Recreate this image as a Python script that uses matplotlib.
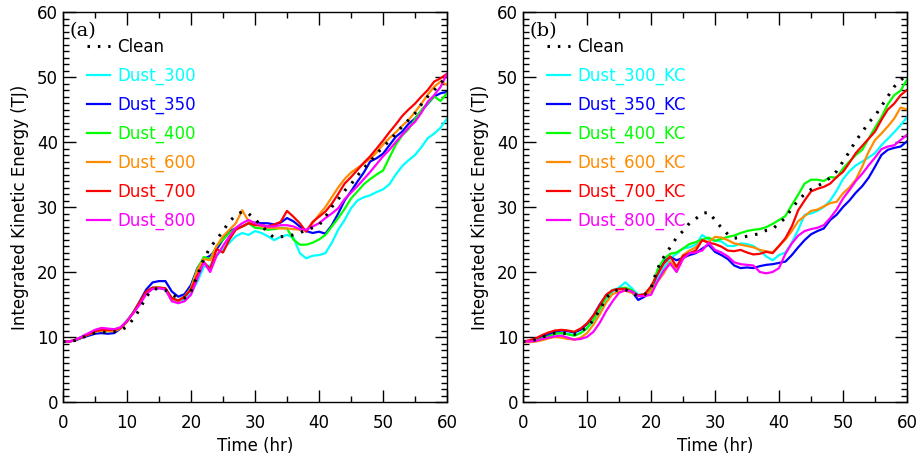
import numpy as np
import matplotlib
matplotlib.use("Agg")
import matplotlib.pyplot as plt
from matplotlib.ticker import MultipleLocator

hours = list(range(61))

# ---------------- Panel (a) ----------------
labels_a = ["Clean", "Dust_300", "Dust_350", "Dust_400", "Dust_600", "Dust_700", "Dust_800"]
clean_a = [9.3,9.3,9.5,9.9,10.3,10.6,10.7,10.7,10.8,11.0,
           11.6,12.8,14.3,16.2,17.3,17.5,17.2,16.5,16.0,16.0,
           17.0,19.5,22.0,23.8,25.0,26.3,27.8,28.7,29.3,29.0,
           28.0,27.3,26.0,25.3,25.4,25.6,25.7,26.0,26.5,26.8,
           27.2,28.5,30.0,31.2,32.5,33.5,34.8,36.0,37.0,38.2,
           39.2,40.2,41.3,42.4,43.4,44.4,45.8,47.0,48.0,49.0,50.3]
dust300_a = [9.3,9.3,9.6,10.0,10.4,10.9,11.1,11.0,11.0,11.4,
             12.5,13.8,15.3,16.8,17.4,17.5,17.3,15.8,15.3,15.8,
             16.8,18.5,20.8,21.0,22.5,23.5,24.5,25.5,26.0,25.7,
             26.3,26.0,25.5,24.9,25.4,25.7,25.3,22.9,22.1,22.5,
             22.6,22.9,24.5,26.5,28.0,29.8,31.0,31.5,31.8,32.3,
             32.7,33.5,35.0,36.3,37.2,38.0,39.2,40.6,41.3,42.2,43.6]
dust350_a = [9.3,9.3,9.5,9.9,10.2,10.5,10.6,10.5,10.6,11.3,
             12.4,13.8,15.5,17.3,18.4,18.6,18.6,17.0,16.2,16.6,
             18.0,20.6,22.0,22.5,23.5,25.0,26.3,26.7,27.0,27.5,
             27.6,27.5,27.5,27.3,27.6,28.3,27.8,27.0,26.3,26.0,
             26.2,25.9,27.2,29.0,31.0,32.4,33.9,35.3,37.0,37.5,
             38.2,39.5,40.8,41.6,42.8,43.6,44.8,45.9,47.0,47.5,47.7]
dust400_a = [9.3,9.3,9.6,10.0,10.4,10.8,11.0,10.9,11.0,11.4,
             12.5,13.8,15.3,16.9,17.6,17.6,17.4,16.0,15.6,16.2,
             17.5,20.5,22.3,22.0,24.0,25.0,26.0,26.7,27.0,27.5,
             26.8,26.7,26.5,26.6,26.8,26.7,25.0,24.2,24.2,24.5,
             25.0,25.7,27.0,28.3,29.7,31.3,32.4,33.5,34.3,35.0,
             35.6,37.6,39.6,41.0,42.0,43.5,44.9,46.0,47.0,46.3,47.5]
dust600_a = [9.3,9.3,9.6,10.0,10.4,10.8,11.0,10.9,10.9,11.3,
             12.4,13.7,15.2,16.8,17.5,17.6,17.4,15.9,15.5,16.2,
             17.5,20.3,22.0,21.8,24.0,25.5,26.5,27.5,29.5,27.8,
             27.5,27.0,26.8,26.8,26.7,26.7,26.6,26.5,26.4,27.5,
             28.8,30.0,31.5,33.0,34.3,35.3,36.0,36.7,37.4,38.4,
             39.6,40.6,41.5,42.5,43.4,44.6,45.9,47.3,48.5,49.3,48.8]
dust700_a = [9.3,9.3,9.6,10.0,10.4,10.9,11.1,11.1,11.1,11.4,
             12.4,13.8,15.4,17.0,17.6,17.6,17.5,16.0,15.6,16.2,
             17.3,19.5,21.5,20.5,23.5,23.0,25.0,26.5,27.0,27.5,
             27.2,27.2,27.0,27.3,27.7,29.4,28.5,27.5,26.2,27.7,
             28.5,29.3,30.5,32.0,33.6,34.6,35.7,36.8,37.8,39.0,
             40.2,41.5,42.7,44.0,45.0,45.9,47.0,48.0,49.3,49.8,50.5]
dust800_a = [9.3,9.3,9.6,10.1,10.6,11.1,11.4,11.3,11.2,11.5,
             12.5,13.7,15.0,16.6,17.4,17.5,17.3,15.5,15.2,15.5,
             16.5,19.0,21.5,20.0,22.5,24.0,25.5,26.8,27.5,28.0,
             27.5,27.2,27.0,27.0,27.2,27.2,27.0,26.6,26.5,27.0,
             27.5,28.3,29.0,29.8,31.2,32.2,33.2,34.3,35.4,36.6,
             37.8,38.8,40.0,41.1,42.2,43.1,44.5,46.2,47.2,48.5,50.5]

# ---------------- Panel (b) ----------------
labels_b = ["Clean", "Dust_300_KC", "Dust_350_KC", "Dust_400_KC", "Dust_600_KC", "Dust_700_KC", "Dust_800_KC"]
clean_b = [9.3,9.4,9.6,10.0,10.3,10.6,10.6,10.5,10.4,10.8,
           11.5,12.6,14.2,16.0,17.0,17.3,17.3,16.8,16.3,16.5,
           17.5,20.5,22.3,23.8,25.3,26.3,27.5,28.2,29.0,29.2,
           28.0,26.8,25.8,25.2,25.3,25.5,25.7,25.9,26.4,26.6,
           27.5,28.3,29.8,31.0,32.0,32.7,33.2,33.8,34.5,35.5,
           37.0,38.5,40.2,41.5,43.0,44.0,45.5,47.0,48.5,49.5,50.3]
dust300_b = [9.3,9.3,9.5,9.8,10.1,10.5,10.6,10.5,10.3,10.6,
             11.3,12.5,14.0,15.8,17.0,17.6,18.4,17.5,16.5,16.6,
             17.2,19.0,20.6,22.1,22.8,23.6,23.8,24.2,25.7,25.0,
             24.8,24.7,24.0,24.0,24.4,24.3,24.0,23.3,22.4,21.8,
             22.6,23.0,24.5,26.5,28.8,29.0,29.4,30.0,31.0,32.5,
             34.3,35.5,36.4,37.0,37.6,38.3,39.5,40.5,41.5,42.6,43.8]
dust350_b = [9.3,9.3,9.6,10.0,10.4,10.8,11.0,10.9,10.7,11.1,
             12.0,13.3,15.0,16.4,17.2,17.4,17.4,17.0,15.7,16.2,
             17.2,19.8,21.6,22.3,21.8,22.2,22.6,22.9,23.6,24.2,
             23.1,22.6,22.0,21.0,20.6,20.7,20.6,20.9,21.1,21.2,
             21.4,21.6,22.6,23.8,24.9,25.8,26.3,26.7,28.0,28.8,
             30.0,31.0,32.2,33.2,34.5,36.2,38.0,38.8,39.1,39.3,40.1]
dust400_b = [9.3,9.3,9.5,9.8,10.1,10.5,10.6,10.4,10.2,10.6,
             11.4,12.7,14.4,16.2,17.2,17.4,17.6,17.2,16.3,16.5,
             17.3,20.3,22.0,22.8,23.0,23.6,24.3,24.6,25.0,25.3,
             24.8,25.1,25.4,25.6,26.0,26.3,26.5,26.6,26.9,27.4,
             28.0,28.6,30.3,31.9,33.6,34.2,34.2,34.0,34.6,34.5,
             35.9,37.0,38.0,38.8,40.5,42.2,43.8,45.8,47.2,47.9,49.6]
dust600_b = [9.2,9.2,9.3,9.5,9.8,10.0,9.9,9.7,9.6,9.9,
             10.6,11.9,13.5,15.3,16.6,17.0,17.1,16.8,16.3,16.5,
             17.0,18.5,19.8,21.6,20.5,22.6,23.3,23.8,24.9,24.6,
             25.4,25.3,24.9,24.4,24.2,24.0,23.8,23.4,23.2,23.0,
             24.0,25.0,26.3,27.8,28.6,29.4,29.6,30.1,30.6,30.8,
             32.1,33.0,34.2,36.2,38.5,40.3,41.3,42.4,43.6,45.3,45.0]
dust700_b = [9.3,9.5,9.8,10.3,10.7,11.0,11.1,11.0,10.8,11.3,
             12.1,13.3,14.9,16.5,17.2,17.4,17.4,17.0,16.4,16.6,
             17.8,19.6,21.3,22.4,20.8,22.5,22.9,23.3,24.9,24.5,
             24.3,23.9,23.3,23.2,23.4,23.0,22.7,22.8,23.1,22.9,
             24.0,25.2,27.0,29.5,31.0,32.4,32.8,33.1,33.6,34.6,
             35.4,36.8,38.3,39.4,40.5,41.6,43.4,45.0,45.9,47.2,48.0]
dust800_b = [9.3,9.3,9.4,9.7,9.9,10.1,10.2,9.9,9.6,9.7,
             10.0,10.8,12.2,14.0,15.5,16.8,17.2,17.0,16.3,16.3,
             16.5,18.5,20.2,21.3,20.0,22.0,22.9,23.0,23.3,24.5,
             23.4,23.0,22.4,21.5,21.2,21.1,21.0,20.0,19.8,20.0,
             20.6,22.8,24.4,25.6,26.3,26.6,26.8,27.2,28.3,29.6,
             31.3,32.6,34.0,35.1,36.4,37.6,38.9,39.3,39.5,40.3,41.1]

colors = ["black", "#00FFFF", "#0000FF", "#00FF00", "#FF8C00", "#FF0000", "#FF00FF"]
series_a = [clean_a, dust300_a, dust350_a, dust400_a, dust600_a, dust700_a, dust800_a]
series_b = [clean_b, dust300_b, dust350_b, dust400_b, dust600_b, dust700_b, dust800_b]
for s in series_a + series_b:
    assert len(s) == 61, len(s)

fig = plt.figure(figsize=(9.17, 4.58), dpi=100)
W, H = 917, 458
panels = [(63, "(a)", labels_a, series_a), (523, "(b)", labels_b, series_b)]
for left, tag, labels, series in panels:
    ax = fig.add_axes([left / W, (H - 402) / H, 384 / W, 390 / H])
    for i, (lab, vals, c) in enumerate(zip(labels, series, colors)):
        if i == 0:
            ax.plot(hours, vals, color=c, lw=2.2, linestyle=(0, (0.8, 2.6)),
                    dash_capstyle="butt", label=lab, zorder=10)
        else:
            ax.plot(hours, vals, color=c, lw=1.6, label=lab)
    ax.set_xlim(0, 60)
    ax.set_ylim(0, 60)
    ax.xaxis.set_major_locator(MultipleLocator(10))
    ax.xaxis.set_minor_locator(MultipleLocator(5))
    ax.yaxis.set_major_locator(MultipleLocator(10))
    ax.yaxis.set_minor_locator(MultipleLocator(1))
    ax.tick_params(which="both", direction="in", top=True, right=True, labelsize=12)
    ax.tick_params(which="major", length=9, width=1)
    ax.tick_params(which="minor", length=4.5, width=1)
    ax.tick_params(axis="x", which="major", pad=9)
    for sp in ax.spines.values():
        sp.set_linewidth(1.0)
    ax.set_xlabel("Time (hr)", fontsize=12, labelpad=3)
    ax.set_ylabel("Integrated Kinetic Energy (TJ)", fontsize=12, labelpad=6)
    ax.text(0.018, 0.975, tag, transform=ax.transAxes, ha="left", va="top",
            fontsize=14, family="DejaVu Serif")
    leg = ax.legend(loc="upper left", bbox_to_anchor=(0.045, 0.95), frameon=False,
                    fontsize=12, handlelength=1.4, handletextpad=0.4,
                    labelspacing=0.64, borderaxespad=0.0, labelcolor="linecolor")

fig.savefig("out.png", dpi=100)
